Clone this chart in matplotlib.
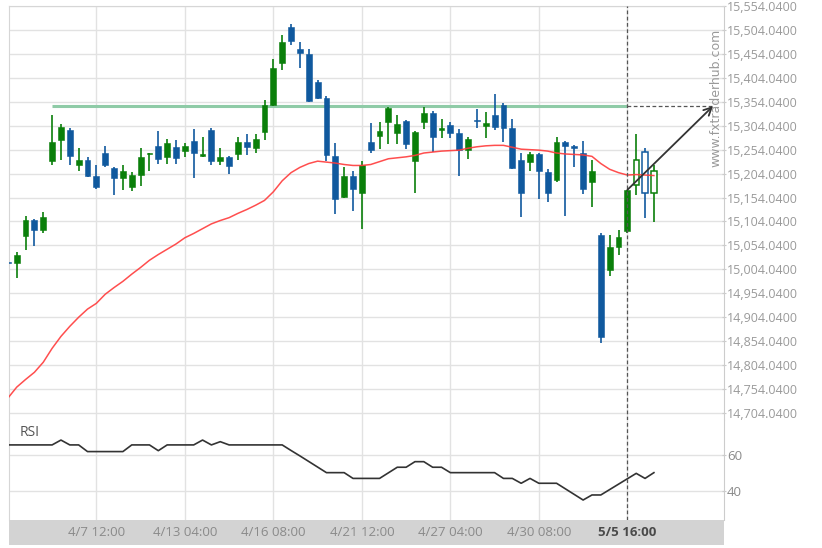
import matplotlib
matplotlib.use("Agg")
import matplotlib.pyplot as plt
import numpy as np

plt.rcParams['font.family'] = ['Open Sans', 'DejaVu Sans']

# ---------------- data ----------------
opens = [15019, 15017, 15074, 15108, 15086, 15231, 15274, 15296, 15223, 15233,
         15199, 15246, 15216, 15194, 15177, 15201, 15244, 15262, 15238, 15259,
         15251, 15273, 15240, 15296, 15231, 15239, 15245, 15271, 15257, 15291,
         15347, 15434, 15510, 15465, 15453, 15396, 15362, 15241, 15156, 15200,
         15163, 15271, 15282, 15311, 15288, 15313, 15231, 15311, 15330, 15296,
         15305, 15288, 15253, 15316, 15303, 15326, 15348, 15299, 15233, 15229,
         15245, 15208, 15191, 15271, 15262, 15246, 15186, 15075, 15003, 15050,
         15085, 15180, 15249, 15164]
highs = [15019, 15041, 15115, 15110, 15123, 15327, 15307, 15299, 15257, 15238,
         15221, 15262, 15218, 15223, 15208, 15257, 15248, 15293, 15276, 15275,
         15268, 15298, 15281, 15299, 15257, 15240, 15281, 15287, 15287, 15358,
         15443, 15493, 15516, 15479, 15464, 15399, 15366, 15267, 15217, 15209,
         15230, 15309, 15311, 15344, 15326, 15315, 15294, 15344, 15335, 15318,
         15311, 15297, 15280, 15339, 15332, 15370, 15351, 15318, 15248, 15250,
         15248, 15214, 15281, 15273, 15264, 15273, 15232, 15080, 15075, 15087,
         15170, 15287, 15257, 15221]
lows = [15017, 14987, 15044, 15052, 15080, 15221, 15233, 15221, 15210, 15197,
        15171, 15217, 15160, 15170, 15168, 15179, 15210, 15224, 15224, 15225,
        15238, 15195, 15238, 15223, 15221, 15203, 15233, 15243, 15247, 15275,
        15345, 15421, 15472, 15425, 15354, 15360, 15231, 15120, 15154, 15125,
        15089, 15246, 15255, 15266, 15266, 15255, 15163, 15298, 15250, 15278,
        15278, 15200, 15235, 15300, 15278, 15295, 15269, 15214, 15113, 15210,
        15151, 15144, 15186, 15116, 15218, 15162, 15135, 14850, 14991, 15033,
        15080, 15160, 15112, 15102]
closes = [15018, 15033, 15107, 15086, 15113, 15271, 15302, 15240, 15233, 15200,
          15177, 15223, 15194, 15210, 15202, 15239, 15247, 15234, 15268, 15237,
          15262, 15248, 15244, 15231, 15239, 15220, 15271, 15259, 15276, 15347,
          15425, 15479, 15480, 15455, 15356, 15362, 15243, 15151, 15200, 15171,
          15221, 15254, 15294, 15342, 15307, 15266, 15290, 15330, 15280, 15299,
          15289, 15253, 15276, 15314, 15310, 15302, 15299, 15216, 15163, 15244,
          15209, 15163, 15271, 15261, 15257, 15172, 15210, 14863, 15050, 15071,
          15170, 15232, 15164, 15209]
hollow_from = 71  # last candles drawn hollow

ma_values = [14735, 14758, 14774, 14789, 14810, 14839, 14864, 14885, 14904, 14921,
             14933, 14952, 14966, 14979, 14994, 15008, 15023, 15035, 15046, 15057,
             15070, 15079, 15089, 15099, 15106, 15112, 15121, 15129, 15138, 15148,
             15166, 15189, 15206, 15217, 15225, 15230, 15228, 15226, 15223, 15221,
             15221, 15223, 15229, 15235, 15237, 15239, 15242, 15247, 15249, 15251,
             15252, 15253, 15257, 15260, 15262, 15263, 15263, 15259, 15255, 15254,
             15253, 15251, 15247, 15245, 15244, 15243, 15240, 15225, 15213, 15206,
             15201, 15202, 15201, 15200]

rsi_values = [65.6, 65.6, 65.6, 65.6, 65.6, 65.6, 68.3, 65.6, 65.6, 61.9,
              61.9, 61.9, 61.9, 61.9, 65.6, 65.6, 65.6, 62.4, 65.6, 65.6,
              65.6, 65.6, 68.3, 65.6, 67.4, 65.6, 65.6, 65.6, 65.6, 65.6,
              65.6, 65.6, 62.5, 59.5, 56.4, 53.3, 50.2, 50.2, 50.2, 47.0,
              47.0, 47.0, 47.0, 50.1, 53.2, 53.2, 56.3, 56.3, 53.2, 53.2,
              50.2, 50.2, 50.2, 50.2, 50.2, 50.2, 47.0, 47.0, 44.3, 47.0,
              44.3, 44.3, 44.3, 41.2, 38.1, 35.0, 37.8, 37.8, 40.8, 43.8,
              46.8, 49.8, 47.0, 50.2]

resistance = 15345
resistance_start = 5
pattern_end = 70
arrow_target_x = 79.68

price_ticks = [14704.04 + 50 * i for i in range(18)]
rsi_ticks = [40, 60]
xtick_pos = [10, 20, 30, 40, 50, 60, 70]
xtick_labels = ['4/7 12:00', '4/13 04:00', '4/16 08:00', '4/21 12:00',
                '4/27 04:00', '4/30 08:00', '5/5 16:00']

# ---------------- figure ----------------
W, H = 822, 548
fig = plt.figure(figsize=(W / 100, H / 100), dpi=100)
fig.patch.set_facecolor('white')

left = 8.5 / W
width = (724 - 8.5) / W
ax = fig.add_axes([left, 1 - 420 / H, width, (420 - 6) / H])
ax_r = fig.add_axes([left, 1 - 520 / H, width, 100 / H])
ax_b = fig.add_axes([left, 1 - 545 / H, width, 25 / H])

xmin, xmax = 0.0734, 80.92
for a in (ax, ax_r, ax_b):
    a.set_xlim(xmin, xmax)

ax.set_ylim(14689.4, 15551.9)
ax_r.set_ylim(23.9, 79.44)

GREEN = '#0a7f0a'
BLUE = '#10599e'
GRID = '#e2e2e2'

# grid
for a in (ax, ax_r):
    for xp in xtick_pos:
        a.axvline(xp, color=GRID, lw=1, zorder=0)
for p in price_ticks:
    ax.axhline(p, color=GRID, lw=1, zorder=0)
for r in rsi_ticks:
    ax_r.axhline(r, color=GRID, lw=1, zorder=0)

# candles
x = np.arange(len(opens))
o = np.array(opens, float); hi = np.array(highs, float)
lo = np.array(lows, float); c = np.array(closes, float)
cols = [GREEN if c[i] >= o[i] else BLUE for i in range(len(o))]
ax.vlines(x, lo, hi, colors=cols, lw=1.2, zorder=2)
bw = 0.66
for i in range(len(o)):
    bottom = min(o[i], c[i])
    h = max(abs(c[i] - o[i]), 1.5)
    if i >= hollow_from:
        ax.bar(x[i], h, bottom=bottom, width=bw * 0.9, facecolor='white',
               edgecolor=cols[i], lw=1.1, zorder=3)
    else:
        ax.bar(x[i], h, bottom=bottom, width=bw, facecolor=cols[i],
               edgecolor=cols[i], lw=0.4, zorder=3)

# moving average
ax.plot(x, ma_values, color='#ff3b3b', lw=1.1, zorder=4, alpha=0.9)

# resistance line
ax.plot([resistance_start, pattern_end], [resistance, resistance],
        color='#8fcba7', lw=2.2, zorder=1.5, solid_capstyle='butt')
ax.plot([pattern_end, arrow_target_x], [resistance, resistance],
        color='#555555', lw=0.9, ls=(0, (3, 2)), zorder=5)

# vertical dashed line
for a in (ax, ax_r):
    a.axvline(pattern_end, color='#555555', lw=0.9, ls=(0, (3, 2)), zorder=5)

# arrow
ax.annotate('', xy=(arrow_target_x, resistance), xytext=(pattern_end, closes[pattern_end]),
            arrowprops=dict(arrowstyle='->', color='#333333', lw=1.3,
                            mutation_scale=14, shrinkA=0, shrinkB=0), zorder=6)

# watermark
ax.text((716 - 8.5) / (724 - 8.5), 1 - (98 - 6) / 414, 'www.fxtraderhub.com',
        transform=ax.transAxes, rotation=90, ha='center', va='center',
        color='#9a9a9a', fontsize=9, family=['DejaVu Sans'], zorder=7)

# RSI line
ax_r.plot(x, rsi_values, color='#333333', lw=1.2, zorder=4)
ax_r.text(0.016, 0.88, 'RSI', transform=ax_r.transAxes, ha='left', va='center',
          color='#555555', fontsize=10)

# axes styling
for a in (ax, ax_r):
    for s in a.spines.values():
        s.set_visible(False)
    a.spines['left'].set_visible(True)
    a.spines['left'].set_color('#d6d6d6')
    a.spines['right'].set_visible(True)
    a.spines['right'].set_color('#cccccc')
    a.set_xticks([])
    a.yaxis.tick_right()
    a.tick_params(axis='y', length=3, direction='inout', color='#cccccc',
                  labelcolor='#9a9a9a', labelsize=9, pad=0.5)
ax.spines['top'].set_visible(True)
ax.spines['top'].set_color('#d6d6d6')

ax.set_yticks(price_ticks)
ax.set_yticklabels([f'{p:,.4f}' for p in price_ticks])
ax_r.set_yticks(rsi_ticks)
ax_r.set_yticklabels([str(r) for r in rsi_ticks])
ax_r.tick_params(axis='y', labelcolor='#8a8a8a', labelsize=9.5)

# bottom band with x labels
ax_b.set_facecolor('#d3d3d3')
for s in ax_b.spines.values():
    s.set_visible(False)
ax_b.set_xticks([]); ax_b.set_yticks([])
ax_b.set_ylim(0, 1)
for xp, lab in zip(xtick_pos, xtick_labels):
    bold = lab == '5/5 16:00'
    ax_b.text(xp, 0.5, lab, ha='center', va='center', fontsize=9.5,
              color='#4a4a4a' if bold else '#8a8a8a',
              fontweight='bold' if bold else 'normal')

fig.savefig('out.png', dpi=100)
